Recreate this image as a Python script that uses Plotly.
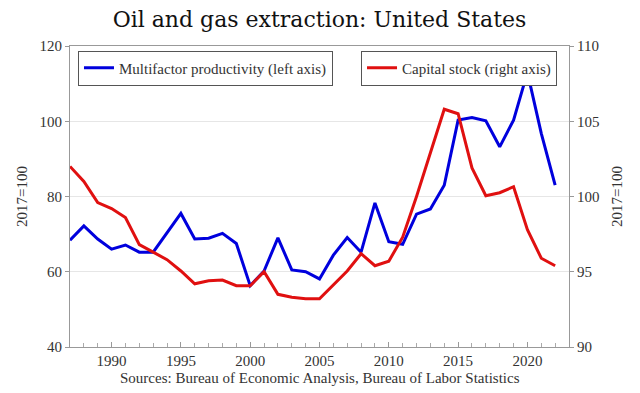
import plotly.graph_objects as go

years = list(range(1987, 2023))
mfp = [68.4, 72.2, 68.7, 66.0, 67.1, 65.2, 65.2, 70.3, 75.5, 68.7,
       68.9, 70.2, 67.5, 56.3, 60.2, 69.0, 60.5, 60.0, 58.1, 64.4,
       69.1, 65.2, 78.3, 68.0, 67.3, 75.3, 76.7, 83.0, 100.3, 101.0,
       100.1, 93.2, 100.3, 113.0, 96.8, 83.0]
capital = [102.0, 101.0, 99.6, 99.2, 98.6, 96.8, 96.3, 95.8, 95.05, 94.2,
           94.4, 94.45, 94.07, 94.07, 95.0, 93.5, 93.3, 93.2, 93.2, 94.1,
           95.05, 96.2, 95.4, 95.7, 97.3, 100.0, 102.9, 105.8, 105.5, 101.9,
           100.05, 100.25, 100.65, 97.8, 95.9, 95.4]
left_ticks = [40, 60, 80, 100, 120]
right_ticks = [90, 95, 100, 105, 110]
x_ticks = [1990, 1995, 2000, 2005, 2010, 2015, 2020]

FONT = "Liberation Serif"

fig = go.Figure()
fig.add_trace(go.Scatter(x=years, y=mfp, mode="lines", name="Multifactor productivity (left axis)",
                         line=dict(color="#0000dd", width=3), legend="legend", showlegend=True))
fig.add_trace(go.Scatter(x=years, y=capital, mode="lines", name="Capital stock (right axis)",
                         line=dict(color="#e01010", width=3), yaxis="y2", legend="legend2",
                         showlegend=True))

fig.update_layout(
    width=640, height=393,
    margin=dict(l=70, r=71, t=46, b=46),
    showlegend=True,
    paper_bgcolor="white", plot_bgcolor="white",
    font=dict(family=FONT, size=15, color="#333"),
    title=dict(text="Oil and gas extraction: United States", x=0.5, xanchor="center",
               xref="paper", y=0.952, yanchor="middle",
               font=dict(size=22, family="DejaVu Serif", color="#111")),
    xaxis=dict(range=[1987, 2023], tickvals=x_ticks, showgrid=False,
               showline=True, linecolor="#999", linewidth=1, mirror=True,
               ticks="inside", ticklen=5, tickcolor="#999",
               minor=dict(dtick=1, ticks="inside", ticklen=4, tickcolor="#aaa", showgrid=False),
               tickfont=dict(size=15), zeroline=False),
    yaxis=dict(range=[40, 120], tickvals=left_ticks, showgrid=True, gridcolor="#e6e6e6",
               showline=True, linecolor="#999", linewidth=1, ticks="outside", ticklen=4,
               tickcolor="#999", zeroline=False,
               title=dict(text="2017=100", font=dict(size=15), standoff=8), tickfont=dict(size=15)),
    yaxis2=dict(range=[90, 110], tickvals=right_ticks, overlaying="y", side="right",
                showgrid=False, showline=True, linecolor="#999", linewidth=1, ticks="outside",
                ticklen=4, tickcolor="#999",
                zeroline=False, title=dict(text="2017=100", font=dict(size=15), standoff=12),
                tickfont=dict(size=15)),
    legend=dict(x=0.016, y=0.985, xanchor="left", yanchor="top", bgcolor="white",
                bordercolor="#555", borderwidth=1, font=dict(size=15)),
    legend2=dict(x=0.976, y=0.985, xanchor="right", yanchor="top", bgcolor="white",
                 bordercolor="#555", borderwidth=1, font=dict(size=15)),
    annotations=[dict(text="Sources: Bureau of Economic Analysis, Bureau of Labor Statistics",
                      xref="paper", yref="paper", x=0.5, y=-0.103, xanchor="center",
                      yanchor="middle", showarrow=False, font=dict(size=15))],
)

# remove the page's default body margin so the 640x393 figure fills the window exactly
fig.write_html("out.html", config={"displayModeBar": False},
               post_script="document.body.style.margin='0';")
